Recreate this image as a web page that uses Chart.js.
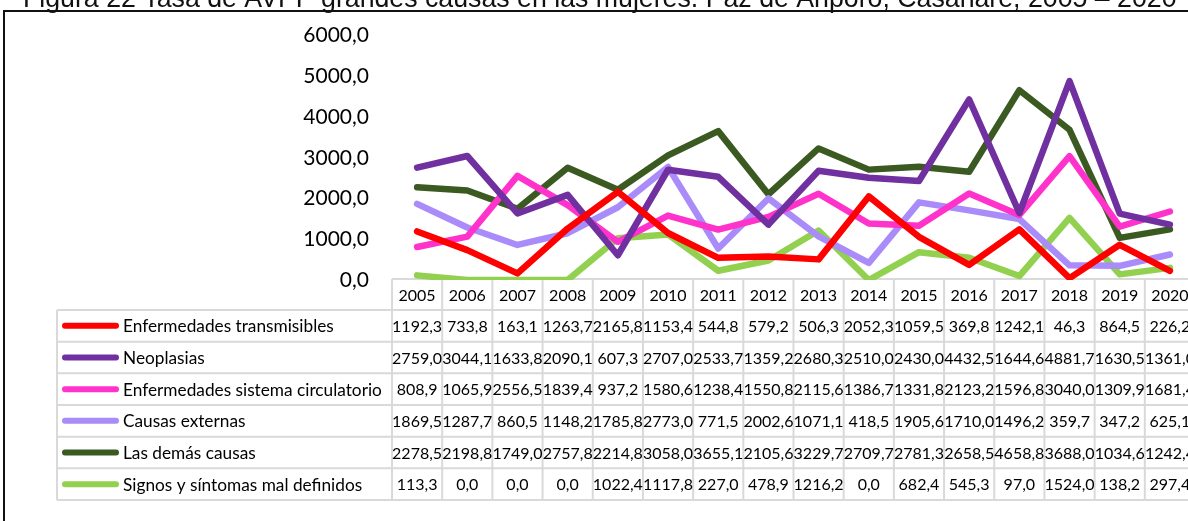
<!DOCTYPE html>
<html><head><meta charset="utf-8">
<script src="https://cdn.jsdelivr.net/npm/chart.js@4.4.1/dist/chart.umd.min.js"></script>
<style>
html,body{margin:0;padding:0;background:#fff;overflow:hidden;width:1188px;height:521px;}
#wrap{position:relative;width:1188px;height:521px;overflow:hidden;}
canvas{position:absolute;left:0;top:0;}
</style></head><body>
<div id="wrap"><canvas id="c" width="1212" height="521"></canvas></div>
<script>
const titleText = "Figura 22 Tasa de AVPP grandes causas en las mujeres. Paz de Ariporo, Casanare, 2005 – 2020";
const years = ["2005","2006","2007","2008","2009","2010","2011","2012","2013","2014","2015","2016","2017","2018","2019","2020"];
const seriesNames = ["Enfermedades transmisibles","Neoplasias","Enfermedades sistema circulatorio","Causas externas","Las demás causas","Signos y síntomas mal definidos"];
const transmisibles = [1192.3,733.8,163.1,1263.7,2165.8,1153.4,544.8,579.2,506.3,2052.3,1059.5,369.8,1242.1,46.3,864.5,226.2];
const neoplasias = [2759.0,3044.1,1633.8,2090.1,607.3,2707.0,2533.7,1359.2,2680.3,2510.0,2430.0,4432.5,1644.6,4881.7,1630.5,1361.0];
const circulatorio = [808.9,1065.9,2556.5,1839.4,937.2,1580.6,1238.4,1550.8,2115.6,1386.7,1331.8,2123.2,1596.8,3040.0,1309.9,1681.4];
const externas = [1869.5,1287.7,860.5,1148.2,1785.8,2773.0,771.5,2002.6,1071.1,418.5,1905.6,1710.0,1496.2,359.7,347.2,625.1];
const demas = [2278.5,2198.8,1749.0,2757.8,2214.8,3058.0,3655.1,2105.6,3229.7,2709.7,2781.3,2658.5,4658.8,3688.0,1034.6,1242.4];
const signos = [113.3,0.0,0.0,0.0,1022.4,1117.8,227.0,478.9,1216.2,0.0,682.4,545.3,97.0,1524.0,138.2,297.4];
const yMin = 0, yMax = 6000, yStep = 1000;

const fmt = v => Number(v).toFixed(1).replace('.', ',');

function ds(label, data, color){
  return {label, data, borderColor: color, backgroundColor: color, borderWidth: 6.5,
    pointRadius: 0, tension: 0, borderCapStyle: 'round', borderJoinStyle: 'round', fill: false};
}

const tablePlugin = {
  id: 'tableAndFrame',
  beforeDatasetsDraw(chart){
    const ctx = chart.ctx, x = chart.scales.x;
    const n = years.length;
    const colW = x.getPixelForValue(1) - x.getPixelForValue(0);
    const left = x.getPixelForValue(0) - colW/2;
    const right = x.getPixelForValue(n-1) + colW/2;
    const headTop = 279, bodyTop = 310, rowH = 31.67, legLeft = 57;
    const bottom = bodyTop + rowH*chart.data.datasets.length;
    ctx.save();
    ctx.strokeStyle = '#d9d9d9'; ctx.lineWidth = 2;
    ctx.beginPath();
    ctx.moveTo(left, headTop); ctx.lineTo(right, headTop);
    for (let r = 0; r <= chart.data.datasets.length; r++){
      const yy = bodyTop + r*rowH;
      ctx.moveTo(legLeft, yy); ctx.lineTo(right, yy);
    }
    ctx.moveTo(legLeft, bodyTop); ctx.lineTo(legLeft, bottom);
    for (let i = 0; i <= n; i++){
      const xi = left + i*colW;
      ctx.moveTo(xi, headTop); ctx.lineTo(xi, bottom);
    }
    ctx.stroke();
    ctx.fillStyle = '#000';
    ctx.font = '16px Lato';
    ctx.textBaseline = 'middle';
    ctx.textAlign = 'center';
    years.forEach((yr, i) => ctx.fillText(yr, x.getPixelForValue(i), (headTop+bodyTop)/2 + 1));
    // legend label font fitted to the reference width of the longest label
    ctx.font = '16px Lato';
    const lw = ctx.measureText(seriesNames[2]).width;
    const legFont = (16 * 259 / lw).toFixed(2) + 'px Lato';
    chart.data.datasets.forEach((d, r) => {
      const cy = bodyTop + r*rowH + rowH/2 + 1;
      ctx.font = '16px Lato';
      ctx.textAlign = 'center';
      d.data.forEach((v, i) => ctx.fillText(fmt(v), x.getPixelForValue(i), cy));
      ctx.save();
      ctx.strokeStyle = d.borderColor; ctx.lineWidth = 6; ctx.lineCap = 'round';
      ctx.beginPath(); ctx.moveTo(65, cy - 1); ctx.lineTo(116, cy - 1); ctx.stroke();
      ctx.restore();
      ctx.font = legFont;
      ctx.textAlign = 'left';
      ctx.fillText(d.label, 123, cy);
    });
    ctx.restore();
  },
  afterDraw(chart){
    const ctx = chart.ctx;
    ctx.save();
    ctx.strokeStyle = '#111'; ctx.lineWidth = 2;
    ctx.beginPath(); ctx.moveTo(4, 540); ctx.lineTo(4, 11); ctx.lineTo(1300, 11); ctx.stroke();
    ctx.font = '20px "Liberation Sans"';
    const w = ctx.measureText(titleText).width;
    const size = 20 * 1154 / w;
    ctx.font = size.toFixed(2) + 'px "Liberation Sans"';
    ctx.fillStyle = '#111'; ctx.textBaseline = 'alphabetic'; ctx.textAlign = 'left';
    ctx.fillText(titleText, 23, 7);
    ctx.restore();
  }
};

new Chart(document.getElementById('c'), {
  type: 'line',
  data: {
    labels: years,
    datasets: [
      ds(seriesNames[0], transmisibles, '#FF0000'),
      ds(seriesNames[1], neoplasias, '#7030A0'),
      ds(seriesNames[2], circulatorio, '#FF33CC'),
      ds(seriesNames[3], externas, '#A98BFA'),
      ds(seriesNames[4], demas, '#3B5A22'),
      ds(seriesNames[5], signos, '#92D050')
    ]
  },
  options: {
    responsive: false, animation: false, devicePixelRatio: 1,
    layout: {padding: {top: 29, bottom: 241, left: 0, right: 17}},
    plugins: {legend: {display: false}, tooltip: {enabled: false}, title: {display: false}},
    scales: {
      x: {type: 'category', offset: true, display: false},
      y: {min: yMin, max: yMax,
        ticks: {stepSize: yStep, padding: 23, color: '#000', font: {family: 'Lato', size: 21}, callback: v => fmt(v)},
        grid: {display: false, drawTicks: false}, border: {display: false},
        afterFit(s){ s.width = 392; }
      }
    }
  },
  plugins: [tablePlugin]
});
</script>
</body></html>
